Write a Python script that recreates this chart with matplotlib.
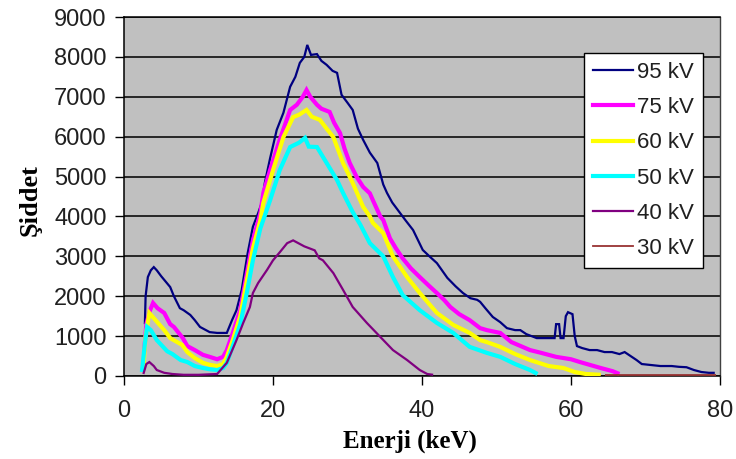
import matplotlib
matplotlib.use("Agg")
import matplotlib.pyplot as plt
from matplotlib.lines import Line2D

# ---------------- data (energy keV, intensity) ----------------
labels = ["95 kV", "75 kV", "60 kV", "50 kV", "40 kV", "30 kV"]
colors = ["#000080", "#FF00FF", "#FFFF00", "#00FFFF", "#800080", "#993333"]
widths = [1.6, 3.0, 3.0, 3.0, 1.6, 1.3]

kv95 = [(2.8, 1300), (2.9, 2000), (3.2, 2480), (3.6, 2650), (4.0, 2730), (4.4, 2650),
        (5.0, 2500), (5.4, 2410), (6.2, 2230), (6.7, 2000), (7.5, 1700), (8.0, 1650),
        (8.9, 1530), (9.5, 1400), (10.2, 1230), (11.0, 1150), (11.5, 1100), (12.5, 1080),
        (13.8, 1080), (14.5, 1400), (15.1, 1650), (15.8, 2160), (16.6, 3080), (17.3, 3740),
        (18.0, 4080), (18.5, 4350), (18.9, 4840), (19.6, 5450), (20.5, 6170), (21.4, 6600),
        (22.3, 7250), (23.0, 7500), (23.6, 7850), (24.2, 8000), (24.4, 8150), (24.6, 8300),
        (24.8, 8200), (25.1, 8050), (25.9, 8070), (26.5, 7900), (27.2, 7800), (28.0, 7650),
        (28.6, 7600), (29.2, 7050), (30.0, 6850), (30.7, 6670), (31.4, 6200), (32.1, 5920),
        (33.0, 5600), (34.0, 5340), (34.8, 4800), (35.3, 4590), (36.0, 4350), (37.0, 4100),
        (37.8, 3900), (38.8, 3660), (40.1, 3160), (41.0, 3000), (42.0, 2830), (43.4, 2460),
        (44.5, 2250), (45.5, 2080), (46.5, 1950), (47.4, 1910), (47.8, 1860), (48.5, 1700),
        (49.5, 1480), (50.5, 1350), (51.4, 1200), (52.5, 1150), (53.2, 1150), (54.0, 1050),
        (55.4, 950), (56.0, 950), (57.0, 950), (57.8, 950), (58.0, 1300), (58.4, 1300),
        (58.6, 950), (59.0, 950), (59.3, 1500), (59.6, 1600), (60.2, 1550), (60.5, 1000),
        (60.8, 750), (61.5, 700), (62.5, 650), (63.5, 650), (64.5, 600), (65.5, 600),
        (66.5, 550), (67.2, 600), (68.0, 500), (68.8, 400), (69.5, 300), (70.5, 280),
        (72.0, 250), (73.5, 250), (74.5, 230), (75.5, 220), (76.5, 150), (77.5, 100),
        (78.5, 80), (79.3, 80)]

kv75 = [(2.7, 600), (3.0, 1300), (3.5, 1650), (3.9, 1830), (4.5, 1700), (5.4, 1580),
        (6.2, 1300), (6.7, 1230), (7.9, 950), (8.5, 750), (9.5, 650), (10.6, 530),
        (11.5, 480), (12.5, 420), (13.3, 480), (13.8, 650), (14.6, 1080), (15.6, 1650),
        (16.5, 2580), (17.3, 3400), (18.3, 4080), (18.7, 4590), (19.6, 5160), (20.9, 5920),
        (22.3, 6670), (23.2, 6800), (24.0, 7000), (24.5, 7170), (25.0, 7000), (25.9, 6800),
        (26.5, 6700), (27.6, 6620), (28.2, 6350), (29.0, 6090), (29.6, 5700), (30.3, 5340),
        (31.2, 5000), (32.1, 4740), (33.0, 4580), (33.4, 4410), (34.4, 4000), (34.8, 3910),
        (35.7, 3450), (36.5, 3200), (37.4, 2950), (38.5, 2700), (39.7, 2480), (41.0, 2250),
        (42.0, 2080), (43.0, 1900), (43.8, 1730), (45.0, 1550), (46.4, 1400), (47.8, 1200),
        (48.7, 1150), (50.5, 1080), (52.0, 850), (54.5, 650), (56.0, 580), (58.0, 480),
        (60.0, 420), (61.2, 350), (62.5, 280), (64.0, 200), (65.6, 120), (66.5, 50)]

kv60 = [(2.6, 200), (2.9, 1000), (3.4, 1580), (4.0, 1450), (5.4, 1150), (6.2, 950),
        (7.8, 780), (8.5, 600), (9.5, 450), (10.6, 330), (11.5, 280), (12.5, 250),
        (13.3, 300), (13.8, 480), (14.6, 900), (15.6, 1500), (16.5, 2400), (17.3, 3200),
        (18.3, 3900), (18.7, 4340), (20.0, 5160), (21.4, 5990), (22.7, 6490), (23.5, 6550),
        (24.5, 6670), (25.2, 6500), (26.3, 6420), (27.2, 6200), (28.1, 5990), (29.4, 5340),
        (30.7, 4840), (32.1, 4240), (33.0, 4000), (33.4, 3840), (34.8, 3580), (36.1, 3000),
        (38.0, 2480), (39.7, 2080), (42.0, 1580), (44.2, 1280), (46.4, 1080), (47.8, 900),
        (48.7, 850), (50.5, 730), (52.5, 550), (54.5, 400), (57.0, 250), (59.0, 200),
        (60.5, 100), (62.0, 50), (64.0, 30)]

kv50 = [(2.4, 100), (2.8, 800), (3.1, 1230), (3.6, 1150), (4.4, 900), (5.0, 780),
        (5.8, 620), (6.5, 550), (7.6, 400), (8.5, 350), (9.5, 250), (10.6, 200),
        (11.5, 170), (12.5, 150), (13.3, 200), (13.8, 330), (14.6, 750), (15.6, 1300),
        (16.5, 2100), (17.3, 2900), (18.3, 3700), (19.6, 4400), (20.9, 5160), (22.3, 5740),
        (23.5, 5850), (24.3, 5970), (24.8, 5750), (25.9, 5740), (27.2, 5340), (28.6, 4910),
        (29.4, 4590), (30.7, 4110), (31.7, 3800), (33.0, 3330), (34.8, 3000), (36.1, 2480),
        (37.4, 2030), (39.7, 1650), (42.0, 1330), (44.2, 1080), (46.4, 730), (48.7, 580),
        (50.5, 480), (52.5, 300), (54.5, 150), (55.5, 50)]

kv40 = [(2.6, 50), (3.0, 300), (3.4, 350), (4.0, 250), (4.4, 150), (5.4, 80),
        (6.5, 50), (8.0, 30), (10.0, 30), (12.5, 50), (13.8, 330), (15.1, 900),
        (16.0, 1330), (16.9, 1730), (17.3, 2080), (18.0, 2330), (19.2, 2660), (20.0, 2900),
        (20.9, 3100), (21.9, 3330), (22.7, 3400), (23.4, 3330), (24.2, 3250), (25.6, 3150),
        (26.2, 2950), (26.7, 2900), (28.1, 2580), (29.4, 2160), (30.7, 1730), (32.6, 1330),
        (34.4, 980), (36.1, 650), (38.0, 400), (39.7, 150), (40.7, 50), (41.5, 30)]

kv30 = [(64.5, 30), (79.5, 30)]

series = [kv95, kv75, kv60, kv50, kv40, kv30]

x_ticks = [0, 20, 40, 60, 80]
y_ticks = [0, 1000, 2000, 3000, 4000, 5000, 6000, 7000, 8000, 9000]

# ---------------- figure ----------------
W, H = 736, 459
fig = plt.figure(figsize=(W / 100, H / 100), dpi=100)
L, R, T, B = 124, 720, 17, 376
ax = fig.add_axes([L / W, 1 - B / H, (R - L) / W, (B - T) / H])
ax.set_facecolor("#C0C0C0")

for s, lab, c, lw in zip(series, labels, colors, widths):
    xs = [p[0] for p in s]
    ys = [p[1] for p in s]
    ax.plot(xs, ys, color=c, lw=lw, label=lab, zorder=3,
            solid_joinstyle="miter", solid_capstyle="butt")

ax.set_xlim(0, 80)
ax.set_ylim(0, 9000)
ax.set_xticks(x_ticks)
ax.set_yticks(y_ticks)
ax.set_xticklabels([str(v) for v in x_ticks])
ax.set_yticklabels([str(v) for v in y_ticks])
ax.yaxis.grid(True, color="#1a1a1a", lw=1.3, zorder=1)
ax.set_axisbelow(True)

for lbl in ax.get_xticklabels() + ax.get_yticklabels():
    lbl.set_fontfamily("Liberation Sans")
    lbl.set_fontsize(17)
    lbl.set_color("#202020")
ax.tick_params(axis="x", direction="out", length=6.5, width=1.0, pad=11)
ax.tick_params(axis="y", direction="out", length=6.5, width=1.0, pad=6)

for side in ["left", "bottom", "top"]:
    ax.spines[side].set_color("black")
    ax.spines[side].set_linewidth(1.1)
ax.spines["right"].set_color("#404040")
ax.spines["right"].set_linewidth(1.0)

fig.text(30 / W, 1 - 200 / H, "Şiddet", rotation=90, ha="center", va="center",
         family="Liberation Serif", weight="bold", size=19)
fig.text(410 / W, 1 - 441 / H, "Enerji (keV)", ha="center", va="center",
         family="Liberation Serif", weight="bold", size=18)

handles = [Line2D([], [], color=c, lw=lw) for c, lw in zip(colors, widths)]
leg = ax.legend(handles, labels, loc="upper left",
                bbox_to_anchor=(584 / W, 1 - 53 / H), bbox_transform=fig.transFigure,
                frameon=True, fancybox=False, edgecolor="black", facecolor="white",
                framealpha=1.0, borderaxespad=0, handlelength=1.8, handletextpad=0.2,
                labelspacing=0.64, borderpad=0.4,
                prop=dict(family="Liberation Sans", size=16))
leg.get_frame().set_linewidth(1.0)
for t in leg.get_texts():
    t.set_color("#202020")
leg.set_zorder(5)

fig.savefig("out.png", dpi=100)
